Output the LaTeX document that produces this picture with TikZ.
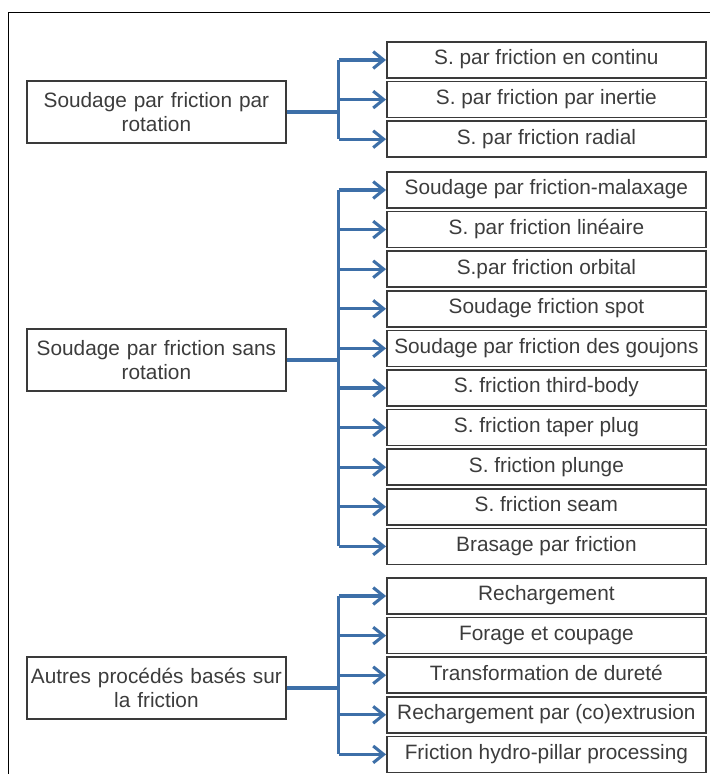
\documentclass[tikz,border=0pt]{standalone}
\usepackage{fontspec}
\setmainfont{Liberation Sans}
\usepackage{xcolor}
\usepackage{tikz}
\usetikzlibrary{positioning, calc, arrows.meta}
\definecolor{boxgray}{HTML}{3A3A3A}
\definecolor{txtgray}{HTML}{3C3C3C}
\definecolor{linkblue}{HTML}{3D6FA8}
\tikzstyle{groupbox} = [rectangle, minimum width=6.475cm, minimum height=1.55cm, inner xsep=1pt, text width=6.4cm, align=center, draw=boxgray, line width=1.2pt, text=txtgray]
\tikzstyle{procbox} = [rectangle, minimum width=7.975cm, minimum height=0.9cm, inner sep=1pt, text height=1.75ex, text depth=0.45ex, text centered, draw=boxgray, line width=1.2pt, text=txtgray]
\tikzstyle{bus} = [draw=linkblue, line width=2.2pt]
\tikzstyle{branch} = [draw=linkblue, line width=2.2pt, -{Straight Barb[length=2.6mm,width=4.2mm,line width=2.2pt]}]
\tikzstyle{every node}=[font=\fontsize{14.8}{17}\selectfont]

\begin{document}
\begin{tikzpicture}[node distance=0.99cm]
		\useasboundingbox (0,0) rectangle (17.75,19.35);
		\draw[line width=0.7pt] (0.2,0) -- (0.2,19.025) -- (17.75,19.025);
		% familles
		\node (rot) [groupbox] at (3.91,16.55) {Soudage par friction par\\rotation};
		\node (srot) [groupbox] at (3.91,10.35) {Soudage par friction sans\\rotation};
		\node (autres) [groupbox] at (3.91,2.15) {Autres procédés basés sur\\la friction};
		
		% avec rotation
		\node (r1) [procbox] at (13.66,17.85) {S. par friction en continu};
		\node (r2) [procbox, below of=r1] {S. par friction par inertie};
		\node (r3) [procbox, below of=r2] {S. par friction radial};
		
		% sans rotation
		\node (s1) [procbox] at (13.66,14.6) {Soudage par friction-malaxage};
		\node (s2) [procbox, below of=s1] {S. par friction linéaire};
		\node (s3) [procbox, below of=s2] {S.par friction orbital};
		\node (s4) [procbox, below of=s3] {Soudage friction spot};
		\node (s5) [procbox, below of=s4] {Soudage par friction des goujons};
		\node (s6) [procbox, below of=s5] {S. friction third-body};
		\node (s7) [procbox, below of=s6] {S. friction taper plug};
		\node (s8) [procbox, below of=s7] {S. friction plunge};
		\node (s9) [procbox, below of=s8] {S. friction seam};
		\node (s10) [procbox, below of=s9] {Brasage par friction};
		
		% autres
		\node (a1) [procbox] at (13.66,4.45) {Rechargement};
		\node (a2) [procbox, below of=a1] {Forage et coupage};
		\node (a3) [procbox, below of=a2] {Transformation de dureté};
		\node (a4) [procbox, below of=a3] {Rechargement par (co)extrusion};
		\node (a5) [procbox, below of=a4] {Friction hydro-pillar processing};
		
		%bus verticaux
		\coordinate (busR) at ($(rot.east)+(1.3,0)$);
		\coordinate (busS) at ($(srot.east)+(1.3,0)$);
		\coordinate (busA) at ($(autres.east)+(1.3,0)$);
		\draw [bus] (rot.east) -- (busR);
		\draw [bus] (srot.east) -- (busS);
		\draw [bus] (autres.east) -- (busA);
		\draw [bus] (busR |- r1.west) -- (busR |- r3.west);
		\draw [bus] (busS |- s1.west) -- (busS |- s10.west);
		\draw [bus] (busA |- a1.west) -- (busA |- a5.west);
		
		%fleches
		\draw [branch] (busR |- r1.west) -- (r1.west);
		\draw [branch] (busR |- r2.west) -- (r2.west);
		\draw [branch] (busR |- r3.west) -- (r3.west);
		\draw [branch] (busS |- s1.west) -- (s1.west);
		\draw [branch] (busS |- s2.west) -- (s2.west);
		\draw [branch] (busS |- s3.west) -- (s3.west);
		\draw [branch] (busS |- s4.west) -- (s4.west);
		\draw [branch] (busS |- s5.west) -- (s5.west);
		\draw [branch] (busS |- s6.west) -- (s6.west);
		\draw [branch] (busS |- s7.west) -- (s7.west);
		\draw [branch] (busS |- s8.west) -- (s8.west);
		\draw [branch] (busS |- s9.west) -- (s9.west);
		\draw [branch] (busS |- s10.west) -- (s10.west);
		\draw [branch] (busA |- a1.west) -- (a1.west);
		\draw [branch] (busA |- a2.west) -- (a2.west);
		\draw [branch] (busA |- a3.west) -- (a3.west);
		\draw [branch] (busA |- a4.west) -- (a4.west);
		\draw [branch] (busA |- a5.west) -- (a5.west);
		
	\end{tikzpicture}
\end{document}
